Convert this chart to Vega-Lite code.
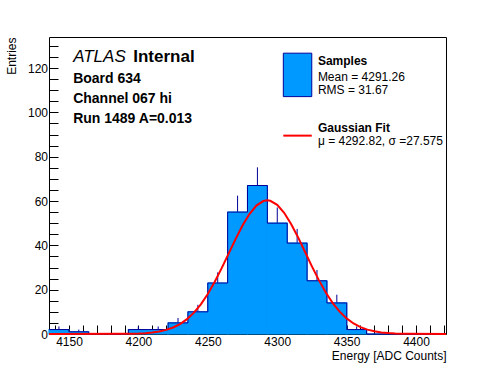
{
  "$schema": "https://vega.github.io/schema/vega-lite/v6.json",
  "width": 397,
  "height": 297,
  "autosize": {"type": "none"},
  "padding": {"left": 49, "top": 37, "right": 50, "bottom": 38},
  "background": "white",
  "config": {
    "font": "Liberation Sans",
    "view": {"stroke": "black", "strokeWidth": 1},
    "axis": {"labelColor": "black", "titleColor": "black", "tickColor": "black", "titleFontWeight": "normal", "labelFont": "Liberation Sans", "titleFont": "Liberation Sans"}
  },
  "datasets": {
    "hist": [
      {"x": 4135.6, "x2": 4149.9, "y": 2}, {"x": 4149.9, "x2": 4164.2, "y": 1},
      {"x": 4164.2, "x2": 4178.5, "y": 0}, {"x": 4178.5, "x2": 4192.8, "y": 0},
      {"x": 4192.8, "x2": 4207.1, "y": 2}, {"x": 4207.1, "x2": 4221.4, "y": 2},
      {"x": 4221.4, "x2": 4235.7, "y": 5}, {"x": 4235.7, "x2": 4250.0, "y": 10},
      {"x": 4250.0, "x2": 4264.3, "y": 23}, {"x": 4264.3, "x2": 4278.6, "y": 55},
      {"x": 4278.6, "x2": 4292.9, "y": 67}, {"x": 4292.9, "x2": 4307.2, "y": 50},
      {"x": 4307.2, "x2": 4321.5, "y": 41}, {"x": 4321.5, "x2": 4335.8, "y": 24},
      {"x": 4335.8, "x2": 4350.1, "y": 14}, {"x": 4350.1, "x2": 4364.4, "y": 2},
      {"x": 4364.4, "x2": 4378.7, "y": 0}, {"x": 4378.7, "x2": 4393.0, "y": 0},
      {"x": 4393.0, "x2": 4407.3, "y": 0}, {"x": 4407.3, "x2": 4421.6, "y": 0}
    ],
    "err": [
      {"x": 4142.75, "y": 0.586, "y2": 3.414}, {"x": 4157.05, "y": 0, "y2": 2},
      {"x": 4199.95, "y": 0.586, "y2": 3.414}, {"x": 4214.25, "y": 0.586, "y2": 3.414},
      {"x": 4228.55, "y": 2.764, "y2": 7.236}, {"x": 4242.85, "y": 6.838, "y2": 13.162},
      {"x": 4257.15, "y": 18.204, "y2": 27.796}, {"x": 4271.45, "y": 47.584, "y2": 62.416},
      {"x": 4285.75, "y": 58.815, "y2": 75.185}, {"x": 4300.05, "y": 42.929, "y2": 57.071},
      {"x": 4314.35, "y": 34.597, "y2": 47.403}, {"x": 4328.65, "y": 19.101, "y2": 28.899},
      {"x": 4342.95, "y": 10.258, "y2": 17.742}, {"x": 4357.25, "y": 0.586, "y2": 3.414}
    ],
    "outline": [
      {"x": 4135.6, "y": 2}, {"x": 4149.9, "y": 1}, {"x": 4164.2, "y": 0}, {"x": 4178.5, "y": 0},
      {"x": 4192.8, "y": 2}, {"x": 4207.1, "y": 2}, {"x": 4221.4, "y": 5}, {"x": 4235.7, "y": 10},
      {"x": 4250.0, "y": 23}, {"x": 4264.3, "y": 55}, {"x": 4278.6, "y": 67}, {"x": 4292.9, "y": 50},
      {"x": 4307.2, "y": 41}, {"x": 4321.5, "y": 24}, {"x": 4335.8, "y": 14}, {"x": 4350.1, "y": 2},
      {"x": 4364.4, "y": 0}, {"x": 4378.7, "y": 0}, {"x": 4393.0, "y": 0}, {"x": 4407.3, "y": 0},
      {"x": 4421.6, "y": 0}
    ],
    "fit": [
      {"x": 4135.6, "y": 0}, {"x": 4190, "y": 0.058}, {"x": 4195, "y": 0.112}, {"x": 4200, "y": 0.209},
      {"x": 4205, "y": 0.378}, {"x": 4210, "y": 0.663}, {"x": 4215, "y": 1.124}, {"x": 4220, "y": 1.845},
      {"x": 4225, "y": 2.929}, {"x": 4230, "y": 4.501}, {"x": 4235, "y": 6.693}, {"x": 4240, "y": 9.629},
      {"x": 4245, "y": 13.405}, {"x": 4250, "y": 18.058}, {"x": 4255, "y": 23.542}, {"x": 4260, "y": 29.697},
      {"x": 4265, "y": 36.249}, {"x": 4270, "y": 42.817}, {"x": 4275, "y": 48.937}, {"x": 4280, "y": 54.123},
      {"x": 4285, "y": 57.923}, {"x": 4290, "y": 59.985}, {"x": 4292.82, "y": 60.3}, {"x": 4295, "y": 60.112},
      {"x": 4300, "y": 58.29}, {"x": 4305, "y": 54.696}, {"x": 4310, "y": 49.662}, {"x": 4315, "y": 43.635},
      {"x": 4320, "y": 37.098}, {"x": 4325, "y": 30.52}, {"x": 4330, "y": 24.297}, {"x": 4335, "y": 18.715},
      {"x": 4340, "y": 13.952}, {"x": 4345, "y": 10.064}, {"x": 4350, "y": 7.024}, {"x": 4355, "y": 4.744},
      {"x": 4360, "y": 3.101}, {"x": 4365, "y": 1.961}, {"x": 4370, "y": 1.2}, {"x": 4375, "y": 0.711},
      {"x": 4380, "y": 0.407}, {"x": 4385, "y": 0.226}, {"x": 4390, "y": 0.121}, {"x": 4395, "y": 0.063},
      {"x": 4421.6, "y": 0}
    ],
    "atlas": [{"x": 4153.0, "y": 122.6, "t": "ATLAS"}],
    "internal": [{"x": 4196.3, "y": 122.6, "t": "Internal"}],
    "info": [
      {"x": 4153.0, "y": 113.2, "t": "Board 634"},
      {"x": 4153.0, "y": 104.1, "t": "Channel 067 hi"},
      {"x": 4153.0, "y": 95.1, "t": "Run 1489 A=0.013"}
    ],
    "legBold": [
      {"x": 4329.3, "y": 121.4, "t": "Samples"},
      {"x": 4329.3, "y": 91.2, "t": "Gaussian Fit"}
    ],
    "legPlain": [
      {"x": 4329.3, "y": 114.3, "t": "Mean = 4291.26"},
      {"x": 4329.3, "y": 108.3, "t": "RMS = 31.67"},
      {"x": 4329.3, "y": 85.2, "t": "μ = 4292.82, σ =27.575"}
    ],
    "legBox": [{"x": 4304.4, "x2": 4324.9, "y": 126.7, "y2": 107.1}],
    "legLine": [{"x": 4304.4, "x2": 4324.9, "y": 89.5}]
  },
  "encoding": {
    "x": {
      "field": "x", "type": "quantitative",
      "scale": {"domain": [4135.6, 4421.6], "nice": false, "zero": false},
      "title": "Energy [ADC Counts]",
      "axis": {
        "values": [4140, 4150, 4160, 4170, 4180, 4190, 4200, 4210, 4220, 4230, 4240, 4250, 4260, 4270, 4280, 4290, 4300, 4310, 4320, 4330, 4340, 4350, 4360, 4370, 4380, 4390, 4400, 4410, 4420],
        "labelExpr": "datum.value % 50 === 0 ? '' + datum.value : ''",
        "tickSize": -9,
        "encode": {"ticks": {"update": {"y2": {"signal": "datum.value % 50 === 0 ? -9 : -4.5"}}}},
        "domain": false, "grid": false,
        "labelFontSize": 12, "labelPadding": 11, "labelOverlap": false, "labelFlush": false,
        "titleFontSize": 12, "titleAnchor": "end", "titlePadding": 3
      }
    },
    "y": {
      "field": "y", "type": "quantitative",
      "scale": {"domain": [0, 134], "nice": false},
      "title": "Entries",
      "axis": {
        "values": [0, 5, 10, 15, 20, 25, 30, 35, 40, 45, 50, 55, 60, 65, 70, 75, 80, 85, 90, 95, 100, 105, 110, 115, 120, 125, 130],
        "labelExpr": "datum.value % 20 === 0 ? '' + datum.value : ''",
        "tickSize": -9,
        "encode": {"ticks": {"update": {"x2": {"signal": "datum.value % 20 === 0 ? 9 : 4.5"}}}},
        "domain": false, "grid": false,
        "labelFontSize": 12, "labelPadding": 10.5, "labelOverlap": false, "labelFlush": false,
        "titleFontSize": 12, "titleAnchor": "end", "titlePadding": 9
      }
    }
  },
  "layer": [
    {
      "data": {"name": "err"},
      "mark": {"type": "rule", "color": "#000099", "strokeWidth": 1},
      "encoding": {"y2": {"field": "y2"}}
    },
    {
      "data": {"name": "hist"},
      "mark": {"type": "rect", "fill": "#0099ff", "stroke": "#0099ff", "strokeWidth": 1.2},
      "encoding": {"x2": {"field": "x2"}, "y2": {"datum": 0}}
    },
    {
      "data": {"name": "outline"},
      "mark": {"type": "line", "interpolate": "step-after", "color": "#000099", "strokeWidth": 1},
      "encoding": {}
    },
    {
      "data": {"name": "fit"},
      "mark": {"type": "line", "color": "#ff0000", "strokeWidth": 2},
      "encoding": {}
    },
    {
      "data": {"name": "atlas"},
      "mark": {"type": "text", "align": "left", "baseline": "alphabetic", "fontSize": 17, "fontStyle": "italic", "color": "black"},
      "encoding": {"text": {"field": "t"}}
    },
    {
      "data": {"name": "internal"},
      "mark": {"type": "text", "align": "left", "baseline": "alphabetic", "fontSize": 17, "fontWeight": "bold", "color": "black"},
      "encoding": {"text": {"field": "t"}}
    },
    {
      "data": {"name": "info"},
      "mark": {"type": "text", "align": "left", "baseline": "alphabetic", "fontSize": 14, "fontWeight": "bold", "color": "black"},
      "encoding": {"text": {"field": "t"}}
    },
    {
      "data": {"name": "legBox"},
      "mark": {"type": "rect", "fill": "#0099ff", "stroke": "#000099", "strokeWidth": 1},
      "encoding": {"x2": {"field": "x2"}, "y2": {"field": "y2"}}
    },
    {
      "data": {"name": "legLine"},
      "mark": {"type": "rule", "color": "#ff0000", "strokeWidth": 2},
      "encoding": {"x2": {"field": "x2"}}
    },
    {
      "data": {"name": "legBold"},
      "mark": {"type": "text", "align": "left", "baseline": "alphabetic", "fontSize": 12, "fontWeight": "bold", "color": "black"},
      "encoding": {"text": {"field": "t"}}
    },
    {
      "data": {"name": "legPlain"},
      "mark": {"type": "text", "align": "left", "baseline": "alphabetic", "fontSize": 12, "color": "black"},
      "encoding": {"text": {"field": "t"}}
    }
  ]
}
